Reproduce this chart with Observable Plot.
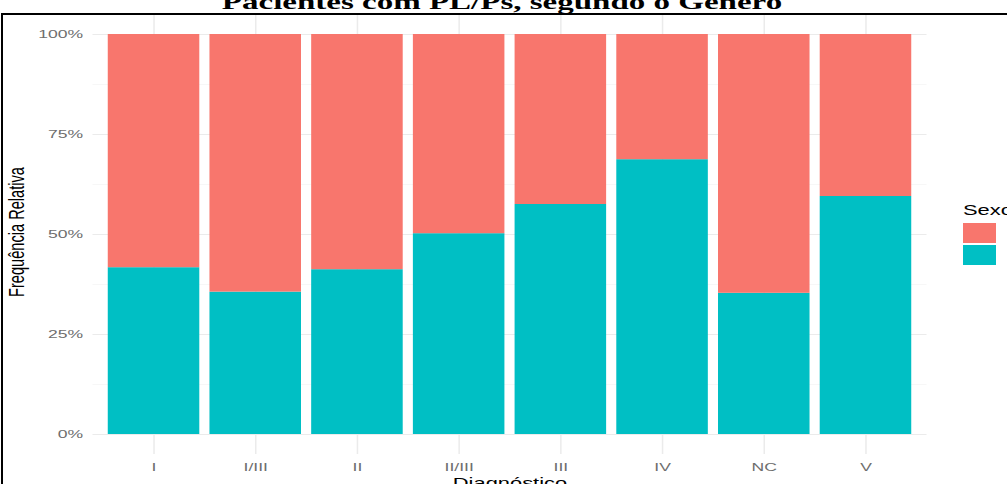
<!DOCTYPE html>
<html>
<head>
<meta charset="utf-8">
<script src="https://cdn.jsdelivr.net/npm/d3@7"></script>
<script src="https://cdn.jsdelivr.net/npm/@observablehq/plot@0.6"></script>
<style>
  body { margin: 0; background: #fff; }
  #wrap { position: relative; width: 1007px; height: 484px; overflow: hidden; background: #fff; }
  #chart { position: absolute; left: 0; top: 0; }
  .t { position: absolute; white-space: nowrap; }
</style>
</head>
<body>
<div id="wrap">
  <div id="chart"></div>
  <div id="title" class="t"></div>
  <div id="frame" class="t"></div>
  <div id="ytitle" class="t"></div>
  <div id="xtitle" class="t"></div>
  <div id="legend" class="t"></div>
</div>
<script>
// ---- data ----
const categorias = ["I", "I/III", "II", "II/III", "III", "IV", "NC", "V"];
const masculino = [0.417, 0.356, 0.412, 0.502, 0.575, 0.687, 0.353, 0.595];
const feminino  = [0.583, 0.644, 0.588, 0.498, 0.425, 0.313, 0.647, 0.405];
const sexos = ["F", "M"];
const cores = ["#F8766D", "#00BFC4"];
const yTicks = [0, 0.25, 0.5, 0.75, 1];
const yTickLabels = ["0%", "25%", "50%", "75%", "100%"];
const yMinor = [0.125, 0.375, 0.625, 0.875];

const titulo = "Pacientes com PL/Ps, segundo o Gênero";
const tituloY = "Frequência Relativa";
const tituloX = "Diagnóstico";
const tituloLegenda = "Sexo";

const rows = [];
categorias.forEach((c, i) => {
  rows.push({diag: c, sexo: "M", valor: masculino[i]});
  rows.push({diag: c, sexo: "F", valor: feminino[i]});
});

const STRETCH = 1.5;

const svg = Plot.plot({
  width: 1007,
  height: 484,
  marginLeft: 92.5,
  marginRight: 80.5,
  marginTop: 14,
  marginBottom: 30,
  style: {fontFamily: "'Liberation Sans', Arial, sans-serif", fontSize: "11.7px", color: "#6e6e6e", background: "transparent"},
  x: {domain: categorias, paddingInner: 0.1, paddingOuter: 0.15, round: false, label: null},
  y: {domain: [-0.05, 1.05], label: null},
  color: {domain: sexos, range: cores},
  marks: [
    Plot.gridY(yMinor, {stroke: "#f3f3f3", strokeOpacity: 1, strokeWidth: 0.7}),
    Plot.gridY(yTicks, {stroke: "#ebebeb", strokeOpacity: 1, strokeWidth: 1}),
    Plot.gridX({stroke: "#ebebeb", strokeOpacity: 1, strokeWidth: 1.5}),
    Plot.barY(rows, {x: "diag", y: "valor", fill: "sexo", order: ["M", "F"]}),
    Plot.axisY(yTicks, {tickSize: 0, tickPadding: 10, tickFormat: (d) => yTickLabels[yTicks.indexOf(d)], label: null}),
    Plot.axisX({tickSize: 0, tickPadding: 8, label: null})
  ]
});

// horizontal stretch of text (the reference is a horizontally stretched image)
d3.select(svg).selectAll("text").each(function () {
  const t = this.getAttribute("transform") || "";
  this.setAttribute("transform", (t + " scale(" + STRETCH + ",1)").trim());
});
document.getElementById("chart").appendChild(svg);

// title
const ti = document.getElementById("title");
ti.textContent = titulo;
Object.assign(ti.style, {
  left: "2px", width: "1000px", textAlign: "center", top: "-9px",
  fontFamily: "'Liberation Serif', 'Times New Roman', serif", fontWeight: "bold",
  fontSize: "22px", lineHeight: "22px", color: "#000",
  transform: "scaleX(" + STRETCH + ")", transformOrigin: "center"
});

// frame
Object.assign(document.getElementById("frame").style, {
  left: "1px", top: "13px", width: "1100px", height: "600px",
  border: "2.5px solid #000", pointerEvents: "none"
});

// y title
const yt = document.getElementById("ytitle");
yt.textContent = tituloY;
Object.assign(yt.style, {
  left: (16 - 100) + "px", top: (232 - 10) + "px", width: "200px", height: "20px",
  textAlign: "center", lineHeight: "20px",
  fontFamily: "'Liberation Sans', Arial, sans-serif", fontSize: "14.6px", color: "#000",
  transform: "scaleX(" + STRETCH + ") rotate(-90deg)", transformOrigin: "center"
});

// x title
const xt = document.getElementById("xtitle");
xt.textContent = tituloX;
Object.assign(xt.style, {
  left: (510 - 100) + "px", top: "473.4px", width: "200px", height: "20px",
  textAlign: "center", lineHeight: "20px",
  fontFamily: "'Liberation Sans', Arial, sans-serif", fontSize: "14.6px", color: "#000",
  transform: "scaleX(" + STRETCH + ")", transformOrigin: "center"
});

// legend
const lg = document.getElementById("legend");
Object.assign(lg.style, {left: "0px", top: "0px", width: "1007px", height: "484px", pointerEvents: "none"});
const lt = document.createElement("div");
lt.textContent = tituloLegenda;
Object.assign(lt.style, {
  position: "absolute", left: "963px", top: "200.4px", lineHeight: "20px",
  fontFamily: "'Liberation Sans', Arial, sans-serif", fontSize: "14.6px", color: "#000",
  transform: "scaleX(" + STRETCH + ")", transformOrigin: "left center", whiteSpace: "nowrap"
});
lg.appendChild(lt);
sexos.forEach((s, i) => {
  const sw = document.createElement("div");
  Object.assign(sw.style, {
    position: "absolute", left: "963px", top: (223 + i * 22) + "px",
    width: "33px", height: "20px", background: cores[i]
  });
  lg.appendChild(sw);
});
</script>
</body>
</html>
